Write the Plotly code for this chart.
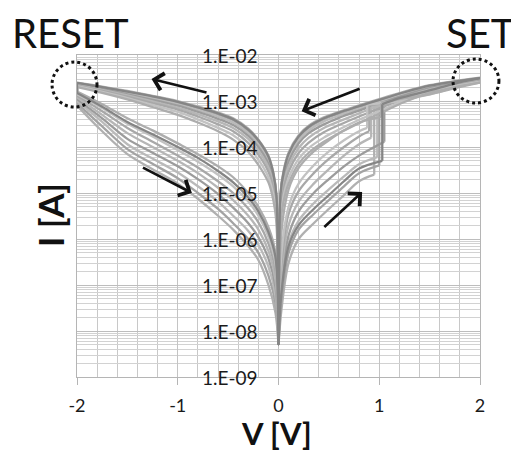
import numpy as np
import plotly.graph_objects as go

# ---------------- data ----------------
# voltage grids of the sweep branches
V_HRS_UP = [0, 0.03, 0.1, 0.2, 0.35, 0.5, 0.65, 0.8]
V_LRS_UP = [1.2, 1.5, 1.75, 2.0]
V_LRS_DOWN = [2.0, 1.75, 1.5, 1.25, 1.0, 0.8, 0.6, 0.45, 0.3, 0.2, 0.1, 0.05, 0.02, 0]
V_LRS_NEG = [0, -0.02, -0.05, -0.1, -0.2, -0.3, -0.45, -0.6, -0.8, -1.0, -1.25, -1.5, -1.75, -2.0]
V_HRS_NEG = [-2.0, -1.75, -1.5, -1.25, -1.0, -0.8, -0.6, -0.45, -0.3, -0.2, -0.1, -0.03, 0]

# SET event per cycle
V_SET = [0.95, 1.0, 0.98, 1.05, 0.92, 0.90, 0.88, 1.02, 1.03]
I_PRESET = [2.5e-5, 4e-5, 6e-5, 1.3e-4, 1.6e-4, 2.2e-4, 2.6e-4, 4.5e-4, 5e-5]
I_POSTSET = [7.5e-4, 8e-4, 7e-4, 9e-4, 7.5e-4, 8e-4, 8.5e-4, 9e-4, 8.5e-4]

# currents [A] per cycle on each branch
I_HRS_UP = [
    [5e-9, 3e-8, 3e-7, 1.0e-6, 2.2e-6, 4.5e-6, 9e-6, 1.8e-5],
    [5e-9, 5e-8, 5e-7, 1.6e-6, 3.5e-6, 7e-6, 1.4e-5, 2.7e-5],
    [5e-9, 8e-8, 8e-7, 2.5e-6, 6e-6, 1.2e-5, 2.3e-5, 4.2e-5],
    [5e-9, 1.2e-7, 1.2e-6, 4e-6, 1e-5, 2e-5, 3.8e-5, 6.5e-5],
    [5e-9, 2e-7, 2e-6, 6.5e-6, 1.6e-5, 3.3e-5, 6.5e-5, 1.15e-4],
    [5e-9, 3e-7, 3.5e-6, 1.1e-5, 2.7e-5, 5.5e-5, 1e-4, 1.7e-4],
    [5e-9, 5e-7, 5e-6, 1.6e-5, 4e-5, 8e-5, 1.4e-4, 2.2e-4],
    [5e-9, 1.5e-6, 1.2e-5, 3.5e-5, 8e-5, 1.4e-4, 2.3e-4, 3.4e-4],
    [5e-9, 7e-8, 7e-7, 2e-6, 4.5e-6, 9e-6, 1.8e-5, 3.4e-5],
]
I_LRS_UP = [
    [1.15e-3, 1.75e-3, 2.4e-3, 3.2e-3],
    [1.1e-3, 1.7e-3, 2.35e-3, 3.1e-3],
    [1.05e-3, 1.6e-3, 2.25e-3, 3.0e-3],
    [1.2e-3, 1.6e-3, 2.2e-3, 2.9e-3],
    [1.0e-3, 1.5e-3, 2.1e-3, 2.8e-3],
    [1.05e-3, 1.45e-3, 2.0e-3, 2.7e-3],
    [1.0e-3, 1.4e-3, 1.95e-3, 2.6e-3],
    [1.1e-3, 1.4e-3, 1.9e-3, 2.5e-3],
    [1.15e-3, 1.7e-3, 2.4e-3, 3.15e-3],
]
I_LRS_DOWN = [
    [3.2e-3, 2.7e-3, 2.2e-3, 1.6e-3, 1.1e-3, 8.0e-4, 5.8e-4, 4.4e-4, 2.9e-4, 1.8e-4, 7.5e-5, 3.0e-5, 1.0e-5, 5e-9],
    [3.1e-3, 2.6e-3, 2.1e-3, 1.5e-3, 1.02e-3, 7.4e-4, 5.3e-4, 4.0e-4, 2.6e-4, 1.6e-4, 6.6e-5, 2.6e-5, 9e-6, 5e-9],
    [3.0e-3, 2.5e-3, 2.0e-3, 1.42e-3, 9.5e-4, 6.8e-4, 4.8e-4, 3.6e-4, 2.3e-4, 1.4e-4, 5.7e-5, 2.3e-5, 7.5e-6, 5e-9],
    [2.9e-3, 2.4e-3, 1.9e-3, 1.33e-3, 8.8e-4, 6.2e-4, 4.3e-4, 3.1e-4, 2.0e-4, 1.2e-4, 4.8e-5, 1.9e-5, 6.5e-6, 5e-9],
    [2.8e-3, 2.3e-3, 1.8e-3, 1.22e-3, 7.8e-4, 5.4e-4, 3.6e-4, 2.6e-4, 1.6e-4, 9.5e-5, 3.8e-5, 1.5e-5, 5e-6, 5e-9],
    [2.7e-3, 2.2e-3, 1.7e-3, 1.12e-3, 6.9e-4, 4.6e-4, 3.0e-4, 2.1e-4, 1.25e-4, 7.4e-5, 2.9e-5, 1.15e-5, 3.8e-6, 5e-9],
    [2.6e-3, 2.1e-3, 1.6e-3, 1.02e-3, 6.0e-4, 3.9e-4, 2.4e-4, 1.6e-4, 9.5e-5, 5.5e-5, 2.1e-5, 8.5e-6, 2.8e-6, 5e-9],
    [2.5e-3, 2.0e-3, 1.5e-3, 9.5e-4, 5.3e-4, 3.3e-4, 2.0e-4, 1.3e-4, 7.5e-5, 4.3e-5, 1.6e-5, 6.5e-6, 2.1e-6, 5e-9],
    [3.15e-3, 2.65e-3, 2.15e-3, 1.55e-3, 1.06e-3, 7.7e-4, 5.6e-4, 4.2e-4, 2.75e-4, 1.7e-4, 7e-5, 2.8e-5, 9.5e-6, 5e-9],
]
I_LRS_NEG = [
    [5e-9, 9e-6, 2.7e-5, 6.5e-5, 1.45e-4, 2.5e-4, 4.2e-4, 5.6e-4, 7.6e-4, 1.0e-3, 1.3e-3, 1.65e-3, 2.05e-3, 2.5e-3],
    [5e-9, 8e-6, 2.4e-5, 5.8e-5, 1.3e-4, 2.25e-4, 3.8e-4, 5.1e-4, 7e-4, 9.3e-4, 1.22e-3, 1.57e-3, 1.97e-3, 2.45e-3],
    [5e-9, 7e-6, 2.1e-5, 5e-5, 1.15e-4, 2e-4, 3.4e-4, 4.6e-4, 6.4e-4, 8.6e-4, 1.14e-3, 1.48e-3, 1.9e-3, 2.4e-3],
    [5e-9, 6e-6, 1.8e-5, 4.3e-5, 1e-4, 1.75e-4, 3e-4, 4.1e-4, 5.8e-4, 7.9e-4, 1.06e-3, 1.4e-3, 1.82e-3, 2.35e-3],
    [5e-9, 5e-6, 1.5e-5, 3.6e-5, 8.4e-5, 1.5e-4, 2.6e-4, 3.6e-4, 5.2e-4, 7.2e-4, 9.8e-4, 1.32e-3, 1.74e-3, 2.3e-3],
    [5e-9, 4e-6, 1.2e-5, 2.9e-5, 6.8e-5, 1.23e-4, 2.2e-4, 3.1e-4, 4.6e-4, 6.5e-4, 9e-4, 1.24e-3, 1.66e-3, 2.2e-3],
    [5e-9, 3e-6, 9e-6, 2.2e-5, 5.3e-5, 9.8e-5, 1.8e-4, 2.6e-4, 4e-4, 5.8e-4, 8.2e-4, 1.16e-3, 1.58e-3, 2.1e-3],
    [5e-9, 2.2e-6, 6.8e-6, 1.7e-5, 4.1e-5, 7.8e-5, 1.45e-4, 2.2e-4, 3.4e-4, 5e-4, 7.4e-4, 1.08e-3, 1.5e-3, 2.0e-3],
    [5e-9, 8.5e-6, 2.6e-5, 6.2e-5, 1.4e-4, 2.4e-4, 4e-4, 5.4e-4, 7.3e-4, 9.6e-4, 1.26e-3, 1.6e-3, 2.0e-3, 2.48e-3],
]
I_HRS_NEG = [
    [8e-4, 2.2e-4, 7e-5, 3.3e-5, 1.6e-5, 7.5e-6, 3.2e-6, 1.6e-6, 7e-7, 3.5e-7, 1e-7, 2.5e-8, 5e-9],
    [9e-4, 2.8e-4, 9e-5, 4.3e-5, 2.1e-5, 1e-5, 4.5e-6, 2.2e-6, 1e-6, 5e-7, 1.6e-7, 4e-8, 5e-9],
    [1.0e-3, 3.5e-4, 1.15e-4, 5.6e-5, 2.8e-5, 1.4e-5, 6.5e-6, 3.2e-6, 1.5e-6, 7.5e-7, 2.5e-7, 6e-8, 5e-9],
    [1.1e-3, 4.2e-4, 1.5e-4, 7.5e-5, 3.8e-5, 2e-5, 9.5e-6, 4.8e-6, 2.2e-6, 1.1e-6, 3.8e-7, 9e-8, 5e-9],
    [1.2e-3, 5e-4, 2e-4, 1e-4, 5e-5, 2.7e-5, 1.3e-5, 7e-6, 3.2e-6, 1.6e-6, 5.5e-7, 1.3e-7, 5e-9],
    [1.3e-3, 6e-4, 2.6e-4, 1.3e-4, 6.5e-5, 3.6e-5, 1.8e-5, 1e-5, 4.6e-6, 2.3e-6, 8e-7, 2e-7, 5e-9],
    [1.4e-3, 7e-4, 3.2e-4, 1.7e-4, 8.5e-5, 4.8e-5, 2.5e-5, 1.4e-5, 6.5e-6, 3.2e-6, 1.1e-6, 3e-7, 5e-9],
    [1.6e-3, 8.5e-4, 4.2e-4, 2.3e-4, 1.2e-4, 7e-5, 3.8e-5, 2.2e-5, 1e-5, 5e-6, 1.8e-6, 5e-7, 5e-9],
    [1.5e-3, 7.5e-4, 3.5e-4, 1.9e-4, 1e-4, 5.8e-5, 3e-5, 1.7e-5, 8e-6, 4e-6, 1.4e-6, 4e-7, 5e-9],
]
CYCLE_COLORS = ["#b0b0b0", "#a3a3a3", "#bababa", "#9c9c9c", "#b6b6b6",
                "#a8a8a8", "#c2c2c2", "#adadad", "#858585"]

# tick labels
Y_TICK_EXP = [-2, -3, -4, -5, -6, -7, -8, -9]
Y_TICK_TEXT = ["1.E-02", "1.E-03", "1.E-04", "1.E-05", "1.E-06", "1.E-07", "1.E-08", "1.E-09"]
X_TICKS = [-2, -1, 0, 1, 2]
X_TICK_TEXT = ["-2", "-1", "0", "1", "2"]

# sweep-direction arrows: tail (V, I) -> head (V, I)
ARROW_TAIL_V = [-0.70, -1.36, 0.82, 0.44]
ARROW_TAIL_I = [1.5e-3, 3.7e-5, 1.9e-3, 1.7e-6]
ARROW_HEAD_V = [-1.26, -0.86, 0.23, 0.83]
ARROW_HEAD_I = [3.0e-3, 1.0e-5, 6.0e-4, 1.05e-5]

FONT = "Lato, 'Open Sans', sans-serif"

fig = go.Figure()
LW = 2.3

def add(x, y, color, shape="spline"):
    fig.add_trace(go.Scatter(x=x, y=y, mode="lines",
                             line=dict(color=color, width=LW, shape=shape, smoothing=0.9),
                             hoverinfo="skip", showlegend=False))

for k in range(len(V_SET)):
    c = CYCLE_COLORS[k]
    # HRS sweep 0 -> SET
    add(V_HRS_UP + [V_SET[k]], I_HRS_UP[k] + [I_PRESET[k]], c)
    # SET jump
    add([V_SET[k], V_SET[k]], [I_PRESET[k], I_POSTSET[k]], c, "linear")
    # LRS SET -> 2 V
    add([V_SET[k]] + V_LRS_UP, [I_POSTSET[k]] + I_LRS_UP[k], c)
    # LRS 2 V -> 0 -> -2 V
    add(V_LRS_DOWN + V_LRS_NEG[1:], I_LRS_DOWN[k] + I_LRS_NEG[k][1:], c)
    # RESET at -2 V
    add([V_LRS_NEG[-1], V_HRS_NEG[0]], [I_LRS_NEG[k][-1], I_HRS_NEG[k][0]], c, "linear")
    # HRS -2 V -> 0
    add(V_HRS_NEG, I_HRS_NEG[k], c)

annotations = []
for e, t in zip(Y_TICK_EXP, Y_TICK_TEXT):
    annotations.append(dict(x=0, y=e, xref="x", yref="y", text=t, showarrow=False,
                            xanchor="right", yanchor="middle", xshift=-19,
                            font=dict(family=FONT, size=19, color="#1a1a1a")))
for tv, ti, hv, hi in zip(ARROW_TAIL_V, ARROW_TAIL_I, ARROW_HEAD_V, ARROW_HEAD_I):
    annotations.append(dict(x=hv, y=np.log10(hi), ax=tv, ay=np.log10(ti),
                            xref="x", yref="y", axref="x", ayref="y", text="",
                            showarrow=True, arrowhead=4, arrowsize=1.3, arrowwidth=2.6,
                            arrowcolor="#111111", standoff=0, startstandoff=0))
annotations += [
    dict(x=-0.015, y=1.068, xref="paper", yref="paper", text="RESET", showarrow=False,
         xanchor="center", yanchor="middle", font=dict(family=FONT, size=40, color="#111111")),
    dict(x=1.0, y=1.068, xref="paper", yref="paper", text="SET", showarrow=False,
         xanchor="center", yanchor="middle", font=dict(family=FONT, size=40, color="#111111")),
    dict(x=0.494, y=-0.174, xref="paper", yref="paper", text="<b>V [V]</b>", showarrow=False,
         xanchor="center", yanchor="middle", font=dict(family=FONT, size=31, color="#111111")),
    dict(x=-0.067, y=0.503, xref="paper", yref="paper", text="<b>I [A]</b>", showarrow=False,
         textangle=-90, xanchor="center", yanchor="middle",
         font=dict(family=FONT, size=35, color="#111111")),
]

shapes = [
    dict(type="circle", xref="paper", yref="paper", x0=-0.062, x1=0.0496, y0=0.8385, y1=0.978,
         line=dict(color="#111111", width=3, dash="dot")),
    dict(type="circle", xref="paper", yref="paper", x0=0.933, x1=1.047, y0=0.851, y1=0.9876,
         line=dict(color="#111111", width=3, dash="dot")),
]

# the page body has an 8 px margin, so the figure is drawn 8 px in from the top-left
fig.update_layout(
    width=511, height=446,
    margin=dict(l=69, r=39, t=47, b=77),
    plot_bgcolor="white", paper_bgcolor="white",
    showlegend=False,
    font=dict(family=FONT),
    annotations=annotations, shapes=shapes,
    xaxis=dict(range=[-2, 2], tickmode="array", tickvals=X_TICKS, ticktext=X_TICK_TEXT,
               ticks="outside", ticklen=7, tickcolor="#b5b5b5",
               showgrid=True, gridcolor="#c4c4c4", gridwidth=1,
               minor=dict(tickmode="linear", tick0=-2, dtick=0.2, showgrid=True,
                          gridcolor="#c8c8c8", ticks=""),
               zeroline=False, showline=True, mirror=True, linecolor="#b5b5b5",
               tickfont=dict(family=FONT, size=18, color="#1a1a1a"),
               ticklabelstandoff=5),
    yaxis=dict(type="log", range=[-9, -2], dtick=1, showticklabels=False, ticks="",
               showgrid=True, gridcolor="#bdbdbd", gridwidth=1,
               minor=dict(dtick="D1", showgrid=True, gridcolor="#d2d2d2", ticks=""),
               zeroline=False, showline=True, mirror=True, linecolor="#b5b5b5"),
)

fig.write_html("out.html")
